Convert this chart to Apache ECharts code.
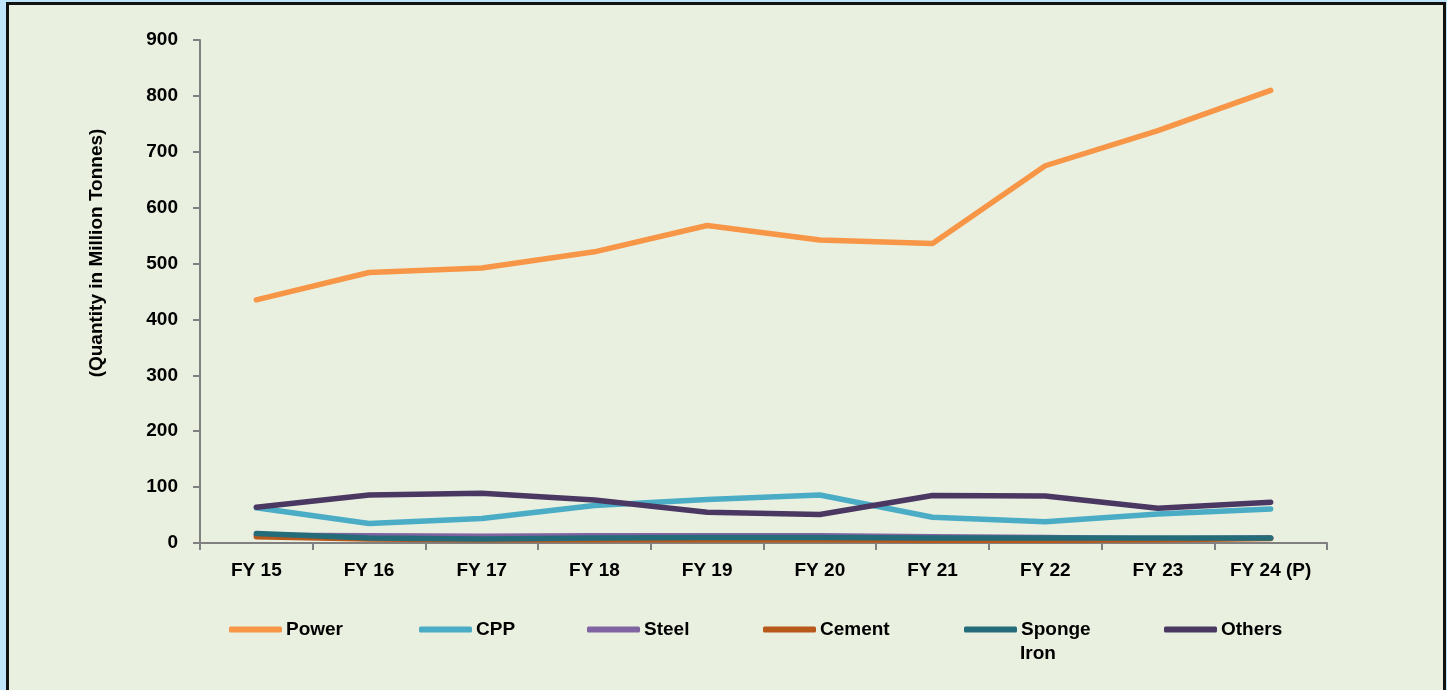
<!DOCTYPE html>
<html><head><meta charset="utf-8">
<script src="https://cdn.jsdelivr.net/npm/echarts@6/dist/echarts.min.js"></script>
<style>html,body{margin:0;padding:0;background:#BEE5F9;}#c{width:1447px;height:690px;}</style>
</head><body><div id="c"></div>
<script>
const categories = ['FY 15','FY 16','FY 17','FY 18','FY 19','FY 20','FY 21','FY 22','FY 23','FY 24 (P)'];
const power  = [435, 484, 492, 521, 568, 542, 536, 675, 738, 810];
const cpp    = [63, 35, 44, 67, 78, 86, 46, 38, 52, 61];
const steel  = [14, 13, 12, 13, 13, 13, 11, 10, 7, 9];
const cement = [11, 7, 6, 6, 6, 6, 5, 5, 6, 8];
const sponge = [17, 9, 7, 9, 10, 10, 9, 9, 9, 9];
const others = [64, 86, 89, 77, 55, 51, 85, 84, 62, 73];
const yTicks = [0, 100, 200, 300, 400, 500, 600, 700, 800, 900];
const seriesNames = ['Power','CPP','Steel','Cement','Sponge Iron','Others'];
const legendLabels = ['Power','CPP','Steel','Cement','Sponge','Others'];
const seriesData = [power, cpp, steel, cement, sponge, others];
const colors = ['#F79646','#4BACC6','#8064A2','#B9581B','#256C7A','#4A3862'];
const legendLeft = [229, 419, 587, 763, 964, 1164];

const chart = echarts.init(document.getElementById('c'));
const fontFamily = 'Liberation Sans, Arial, sans-serif';
const legends = seriesNames.map((n, i) => ({
  data: [n], left: legendLeft[i], top: 620, orient: 'horizontal',
  itemWidth: 53, itemHeight: 6, itemGap: 0,
  icon: 'roundRect',
  formatter: legendLabels[i],
  textStyle: { fontFamily: fontFamily, fontWeight: 'bold', fontSize: 19, color: '#000', padding: [0,0,0,-1] },
  padding: 0
}));
chart.setOption({
  backgroundColor: '#BEE5F9',
  animation: false,
  color: colors,
  graphic: [
    { type: 'rect', z: -10, shape: { x: 7.5, y: 3.5, width: 1437, height: 700 }, style: { fill: '#E9F0E0', stroke: '#111', lineWidth: 3 } },
    { type: 'text', z: 10, x: 97, y: 253, rotation: Math.PI / 2,
      style: { text: '(Quantity in Million Tonnes)', fontFamily: fontFamily, fontWeight: 'bold', fontSize: 19, fill: '#000', align: 'center', verticalAlign: 'middle' } },
    { type: 'text', z: 10, x: 1020, y: 654,
      style: { text: 'Iron', fontFamily: fontFamily, fontWeight: 'bold', fontSize: 19, fill: '#000', align: 'left', verticalAlign: 'middle' } }
  ],
  legend: legends,
  grid: { left: 200, right: 120, top: 40, bottom: 147, containLabel: false },
  xAxis: {
    type: 'category', data: categories, boundaryGap: true,
    axisLine: { lineStyle: { color: '#808080', width: 2 } },
    axisTick: { show: true, length: 7, lineStyle: { color: '#808080', width: 2 } },
    axisLabel: { color: '#000', fontFamily: fontFamily, fontWeight: 'bold', fontSize: 19, margin: 18 }
  },
  yAxis: {
    type: 'value', min: yTicks[0], max: yTicks[yTicks.length - 1], interval: 100,
    axisLine: { show: true, lineStyle: { color: '#808080', width: 2 } },
    axisTick: { show: true, length: 7, lineStyle: { color: '#808080', width: 2 } },
    splitLine: { show: false },
    axisLabel: { color: '#000', fontFamily: fontFamily, fontWeight: 'bold', fontSize: 19, margin: 22 }
  },
  series: seriesNames.map((n, i) => ({
    name: n, type: 'line', data: seriesData[i], symbol: 'none', smooth: false,
    lineStyle: { width: 5.5, color: colors[i], cap: 'round', join: 'round' },
    itemStyle: { color: colors[i] }
  }))
});
</script></body></html>
